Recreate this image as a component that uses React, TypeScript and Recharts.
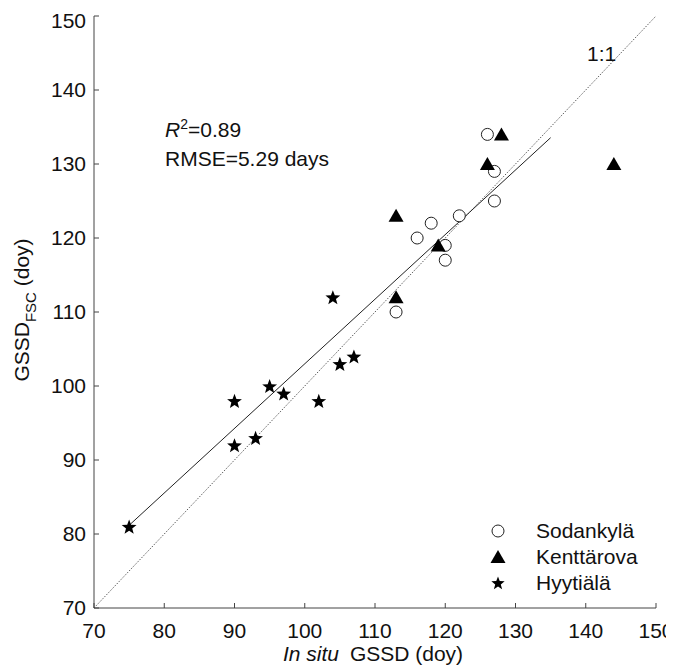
import { ScatterChart, Scatter, XAxis, YAxis, ReferenceLine } from 'recharts';

const sodankylaX = [126, 127, 127, 122, 118, 116, 120, 120, 113];
const sodankylaY = [134, 129, 125, 123, 122, 120, 119, 117, 110];

const kenttarovaX = [128, 126, 144, 113, 119, 113];
const kenttarovaY = [134, 130, 130, 123, 119, 112];

const hyytialaX = [75, 90, 90, 93, 95, 97, 102, 105, 107, 104];
const hyytialaY = [81, 98, 92, 93, 100, 99, 98, 103, 104, 112];

const axisTicks = [70, 80, 90, 100, 110, 120, 130, 140, 150];
const fitSlope = 0.873;
const fitIntercept = 15.7;
const fitRange = [75, 135];
const statLabels = ['0.89', '5.29'];

const toPoints = (xs: number[], ys: number[]) => xs.map((x, i) => ({ x, y: ys[i] }));

const FONT = '"Liberation Sans", Arial, sans-serif';
const INK = '#111';
const FS = 21;

const Circle = (p: any) => <circle cx={p.cx} cy={p.cy} r={6} fill="#fff" stroke="#222" strokeWidth={1} />;
const Triangle = (p: any) => (
  <polygon points={`${p.cx},${p.cy - 7} ${p.cx - 7.5},${p.cy + 6} ${p.cx + 7.5},${p.cy + 6}`} fill="#000" />
);
const starPath = (cx: number, cy: number, R: number) => {
  const pts: string[] = [];
  for (let i = 0; i < 10; i++) {
    const r = i % 2 === 0 ? R : R * 0.42;
    const a = -Math.PI / 2 + (i * Math.PI) / 5;
    pts.push(`${cx + r * Math.cos(a)},${cy + r * Math.sin(a)}`);
  }
  return pts.join(' ');
};
const Star = (p: any) => <polygon points={starPath(p.cx, p.cy + 0.8, 7.8)} fill="#000" />;

const legendItems = [
  { name: 'Sodankylä', icon: <circle cx={9} cy={9} r={6} fill="#fff" stroke="#222" /> },
  { name: 'Kenttärova', icon: <polygon points="9,2 1.5,15 16.5,15" fill="#000" /> },
  { name: 'Hyytiälä', icon: <polygon points={starPath(9, 9.5, 7)} fill="#000" /> }
];

export default function App() {
  const tickStyle = { fontSize: FS, fill: INK, fontFamily: FONT };
  return (
    <div style={{ position: 'relative', width: 666, height: 658 }}>
      <ScatterChart width={666} height={658} margin={{ top: 8, right: 18, bottom: 0, left: 0 }}>
        <XAxis
          type="number"
          dataKey="x"
          domain={[70, 150]}
          ticks={axisTicks}
          height={58}
          tickSize={-5}
          tickMargin={20}
          tick={tickStyle}
          stroke="#444"
          allowDataOverflow
        />
        <XAxis xAxisId="top" orientation="top" type="number" domain={[70, 150]} ticks={axisTicks} height={0}
          tickSize={-5} tickFormatter={() => ''} stroke="#333" />
        <YAxis
          type="number"
          dataKey="y"
          domain={[70, 150]}
          ticks={axisTicks}
          width={86}
          tickSize={-5}
          tickMargin={13}
          tick={tickStyle}
          stroke="#444"
          allowDataOverflow
        />
        <YAxis yAxisId="right" orientation="right" type="number" domain={[70, 150]} ticks={axisTicks} width={0}
          tickSize={-5} tickFormatter={() => ''} stroke="#333" />
        <ReferenceLine segment={[{ x: 70, y: 70 }, { x: 150, y: 150 }]} stroke="#333" strokeWidth={0.8} strokeDasharray="1.5 1.5" />
        <ReferenceLine
          segment={fitRange.map((x) => ({ x, y: fitSlope * x + fitIntercept }))}
          stroke="#222"
          strokeWidth={1}
        />
        <Scatter name="Sodankylä" data={toPoints(sodankylaX, sodankylaY)} shape={Circle} isAnimationActive={false} />
        <Scatter name="Kenttärova" data={toPoints(kenttarovaX, kenttarovaY)} shape={Triangle} isAnimationActive={false} />
        <Scatter name="Hyytiälä" data={toPoints(hyytialaX, hyytialaY)} shape={Star} isAnimationActive={false} />
      </ScatterChart>
      <div style={{ position: 'absolute', left: 481, top: 510, fontFamily: FONT, fontSize: FS, color: INK }}>
        {legendItems.map((it) => (
          <div key={it.name} style={{ display: 'flex', alignItems: 'center', height: 26 }}>
            <svg width={18} height={18} style={{ marginRight: 29 }}>{it.icon}</svg>
            <span>{it.name}</span>
          </div>
        ))}
      </div>
      <svg width={666} height={658} style={{ position: 'absolute', left: 0, top: 0, pointerEvents: 'none' }}
        fontFamily={FONT} fontSize={FS} fill={INK}>
        <text x={579} y={53}>1:1</text>
        <text x={157} y={129}>
          <tspan fontStyle="italic">R</tspan>
          <tspan fontSize={14} dy={-8}>2</tspan>
          <tspan dy={8}>={statLabels[0]}</tspan>
        </text>
        <text x={157} y={158}>RMSE={statLabels[1]} days</text>
        <text x={365} y={653} textAnchor="middle">
          <tspan fontStyle="italic">In situ</tspan>
          <tspan dx={11}>GSSD (doy)</tspan>
        </text>
        <text transform="translate(21,302) rotate(-90)" textAnchor="middle">
          <tspan>GSSD</tspan>
          <tspan fontSize={15} dy={7}>FSC</tspan>
          <tspan dy={-7}> (doy)</tspan>
        </text>
      </svg>
    </div>
  );
}
